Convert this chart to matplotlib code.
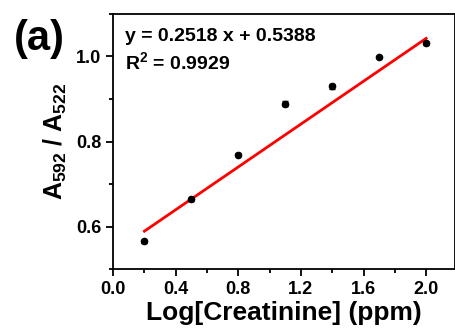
import numpy as np
import matplotlib.pyplot as plt
from matplotlib.ticker import MultipleLocator

plt.rcParams['font.family'] = ['Liberation Sans', 'DejaVu Sans']
plt.rcParams['font.weight'] = 'bold'
plt.rcParams['mathtext.fontset'] = 'custom'
plt.rcParams['mathtext.bf'] = 'Liberation Sans:bold'
plt.rcParams['mathtext.rm'] = 'Liberation Sans:bold'

# calibration data
log_conc = [0.2, 0.5, 0.8, 1.1, 1.4, 1.7, 2.0]
ratio = [0.565, 0.664, 0.769, 0.889, 0.930, 0.999, 1.031]
ratio_err = [0.003, 0.003, 0.003, 0.006, 0.006, 0.003, 0.003]

slope = 0.2518
intercept = 0.5388
r2 = 0.9929

fig = plt.figure(figsize=(4.56, 3.31), dpi=100)
ax = fig.add_axes([0.248, 0.187, 0.750, 0.771])

ax.errorbar(log_conc, ratio, yerr=ratio_err, fmt='o', color='black',
            ms=4.5, capsize=2, elinewidth=1, capthick=1, zorder=3)

x_fit = np.array([log_conc[0], log_conc[-1]])
ax.plot(x_fit, slope * x_fit + intercept, color='red', lw=2, zorder=2)

ax.set_xlim(0, 2.185)
ax.set_ylim(0.5, 1.1)
ax.xaxis.set_major_locator(MultipleLocator(0.4))
ax.xaxis.set_minor_locator(MultipleLocator(0.2))
ax.yaxis.set_major_locator(MultipleLocator(0.2))
ax.yaxis.set_minor_locator(MultipleLocator(0.1))
ax.tick_params(which='both', direction='out', width=1.3, labelsize=13)
ax.tick_params(which='major', length=5)
ax.tick_params(which='minor', length=3)
for s in ax.spines.values():
    s.set_linewidth(1.3)

ax.set_xlabel('Log[Creatinine] (ppm)', fontsize=19, fontweight='bold', labelpad=2)
ax.set_ylabel(r'A$_{\mathbf{592}}$ / A$_{\mathbf{522}}$', fontsize=18, fontweight='bold', labelpad=5)

ax.text(0.035, 0.895, f'y = {slope} x + {intercept}', transform=ax.transAxes,
        fontsize=14, fontweight='bold')
ax.text(0.035, 0.78, f'R$^{{\\mathbf{{2}}}}$ = {r2}', transform=ax.transAxes,
        fontsize=14, fontweight='bold')

fig.text(0.03, 0.85, '(a)', fontsize=30, fontweight='bold')

fig.savefig('out.png', dpi=100)
